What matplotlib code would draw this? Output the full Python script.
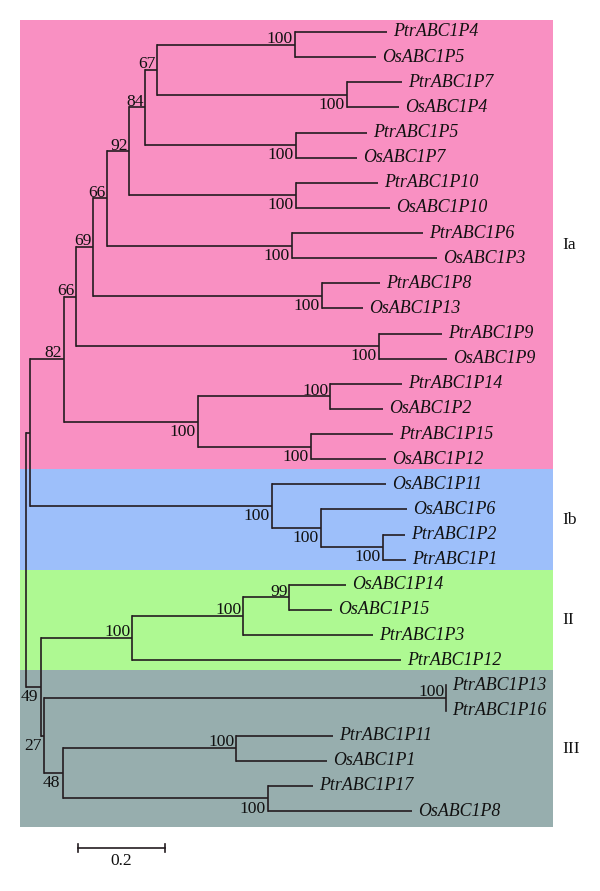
import matplotlib
matplotlib.use("Agg")
import matplotlib.pyplot as plt
from matplotlib.patches import Rectangle

# ---------------- data ----------------
leaf_names = ["PtrABC1P4", "OsABC1P5", "PtrABC1P7", "OsABC1P4", "PtrABC1P5", "OsABC1P7",
              "PtrABC1P10", "OsABC1P10", "PtrABC1P6", "OsABC1P3", "PtrABC1P8", "OsABC1P13",
              "PtrABC1P9", "OsABC1P9", "PtrABC1P14", "OsABC1P2", "PtrABC1P15", "OsABC1P12",
              "OsABC1P11", "OsABC1P6", "PtrABC1P2", "PtrABC1P1",
              "OsABC1P14", "OsABC1P15", "PtrABC1P3", "PtrABC1P12",
              "PtrABC1P13", "PtrABC1P16", "PtrABC1P11", "OsABC1P1", "PtrABC1P17", "OsABC1P8"]
leaf_parent = ["nP4", "nP4", "nP7", "nP7", "nP5", "nP5",
               "nP10", "nP10", "nP6", "nP6", "nP8", "nP8",
               "nP9", "nP9", "nP14", "nP14", "nP15", "nP15",
               "Ib", "nIb2", "nP2", "nP2",
               "n99", "n99", "nII2", "II",
               "nP13", "nP13", "nP11", "nP11", "nP17", "nP17"]
# distance of each leaf tip from the root
leaf_depth = [0.830, 0.805, 0.864, 0.857, 0.784, 0.761,
              0.809, 0.837, 0.913, 0.945, 0.814, 0.775,
              0.956, 0.968, 0.864, 0.821, 0.844, 0.828,
              0.828, 0.876, 0.871, 0.874,
              0.736, 0.703, 0.798, 0.862,
              0.966, 0.966, 0.706, 0.692, 0.660, 0.887]

node_names = ["root", "I", "Ia", "n66b", "n69", "n66a", "n92", "n84", "n67",
              "nP4", "nP7", "nP5", "nP10", "nP6", "nP8", "nP9",
              "nP14g", "nP14", "nP15", "Ib", "nIb2", "nP2",
              "n49", "II", "nII2", "n99", "n27", "nP13", "n48", "nP11", "nP17"]
node_parent = [None, "root", "I", "Ia", "n66b", "n69", "n66a", "n92", "n84",
               "n67", "n67", "n84", "n92", "n66a", "n69", "n66b",
               "Ia", "nP14g", "nP14g", "I", "Ib", "nIb2",
               "root", "n49", "II", "nII2", "n49", "n27", "n27", "n48", "n48"]
node_depth = [0.0, 0.0092, 0.0874, 0.115, 0.154, 0.186, 0.237, 0.274, 0.301,
              0.618, 0.738, 0.621, 0.621, 0.611, 0.680, 0.811,
              0.395, 0.699, 0.655, 0.566, 0.678, 0.821,
              0.0345, 0.244, 0.499, 0.605, 0.0414, 0.966, 0.0851, 0.483, 0.556]
node_support = [None, None, 82, 66, 69, 66, 92, 84, 67,
                100, 100, 100, 100, 100, 100, 100,
                100, 100, 100, 100, 100, 100,
                49, 100, 100, 99, 27, 100, 48, 100, 100]

group_names = ["Ia", "Ib", "II", "III"]
group_sizes = [18, 4, 4, 6]
scale_length = 0.2
scale_label = "0.2"

# ---------------- style ----------------
group_colors = ["#F990C2", "#9DBFFA", "#AEF992", "#97AEAE"]
label_below = {"nP7", "nP5", "nP10", "nP6", "nP8", "nP9", "nP14g", "nP15",
               "Ib", "nIb2", "nP2", "n49", "n27", "n48", "nP17"}
line_color = "#241c20"
lw = 1.2
serif = ["Liberation Serif", "DejaVu Serif"]

fig = plt.figure(figsize=(6.0, 8.91), dpi=100)
ax = fig.add_axes([0, 0, 1, 1])
px_per_unit = 435.0
x0_px = 26.0
row_px = 25.13
y0_px = 32.0
ax.set_xlim(-x0_px / px_per_unit, (600 - x0_px) / px_per_unit)
ax.set_ylim((891 - y0_px) / row_px, -y0_px / row_px)
ax.axis("off")

# ---------------- tree geometry ----------------
depth = dict(zip(node_names, node_depth))
parent = dict(zip(node_names, node_parent))
children = {n: [] for n in node_names}
for n, p in zip(node_names, node_parent):
    if p is not None:
        children[p].append(n)
for i, (n, p) in enumerate(zip(leaf_names, leaf_parent)):
    children[p].append(n)
    depth[n] = leaf_depth[i]
    parent[n] = p

ypos = {n: float(i) for i, n in enumerate(leaf_names)}


def get_y(n):
    if n in ypos:
        return ypos[n]
    ys = [get_y(c) for c in children[n]]
    ypos[n] = (min(ys) + max(ys)) / 2.0
    return ypos[n]


get_y("root")

# backgrounds
x_left = -6 / px_per_unit
x_right = (553 - x0_px) / px_per_unit
top = -0.48
bounds = [top]
acc = -0.5
for gs in group_sizes:
    acc += gs
    bounds.append(acc - 0.1)
bounds[-1] = acc + 0.13
for gi, (gname, col) in enumerate(zip(group_names, group_colors)):
    s, e = bounds[gi], bounds[gi + 1]
    ax.add_patch(Rectangle((x_left, s), x_right - x_left, e - s,
                           facecolor=col, edgecolor="none", zorder=0))
    ax.text((562 - x0_px) / px_per_unit, (s + e) / 2.0, gname,
            fontsize=12.5, family=serif, ha="left", va="center", color="#111111")

# branches
for n in list(parent.keys()):
    p = parent[n]
    if p is None:
        continue
    ax.plot([depth[p], depth[n]], [ypos[n], ypos[n]], color=line_color, lw=lw,
            solid_capstyle="butt", zorder=2)
for n in node_names:
    ys = [ypos[c] for c in children[n]]
    ax.plot([depth[n], depth[n]], [min(ys), max(ys)], color=line_color, lw=lw,
            solid_capstyle="projecting", zorder=2)

# leaf labels
for n in leaf_names:
    ax.annotate(n, (depth[n], ypos[n]), xytext=(4.5, 0), textcoords="offset points",
                fontsize=12.9, family=serif, style="italic", ha="left", va="center",
                color="#111111")

# bootstrap labels
for n, s in zip(node_names, node_support):
    if s is None:
        continue
    if n in label_below:
        ax.annotate(str(s), (depth[n], ypos[n]), xytext=(-1.8, -1.5), textcoords="offset points",
                    fontsize=12.6, family=serif, ha="right", va="top", color="#111111")
    else:
        ax.annotate(str(s), (depth[n], ypos[n]), xytext=(-1.2, 1.3), textcoords="offset points",
                    fontsize=12.6, family=serif, ha="right", va="baseline", color="#111111")

# scale bar
sb_x = (78 - x0_px) / px_per_unit
sb_y = (848 - y0_px) / row_px
ax.plot([sb_x, sb_x + scale_length], [sb_y, sb_y], color=line_color, lw=lw)
for xx in (sb_x, sb_x + scale_length):
    ax.plot([xx, xx], [sb_y - 0.17, sb_y + 0.17], color=line_color, lw=lw)
ax.text(sb_x + scale_length / 2, sb_y + 0.2, scale_label, fontsize=12.5, family=serif,
        ha="center", va="top", color="#111111")

fig.savefig("out.png", dpi=100, facecolor="white")
